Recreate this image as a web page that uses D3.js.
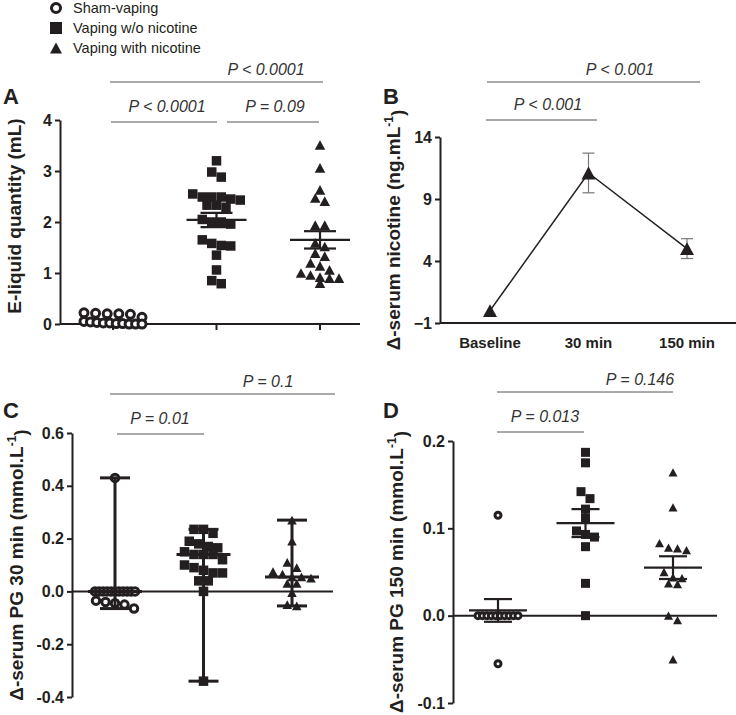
<!DOCTYPE html>
<html><head><meta charset="utf-8">
<script src="https://cdn.jsdelivr.net/npm/d3@7"></script>
<style>body{margin:0;background:#fff} svg{display:block}</style>
</head><body><svg id="c" width="736" height="715"></svg>
<script>
// ---------- DATA ----------
const groups = ["sham", "noNic", "nic"];
const legendLabels = ["Sham-vaping", "Vaping w/o nicotine", "Vaping with nicotine"];
const groupSymbols = ["circle", "square", "triangle"];

// Panel A: E-liquid quantity (mL)
const aSham = [0.22, 0.21, 0.2, 0.2, 0.19, 0.13, 0.05, 0.04, 0.03, 0.02, 0.02, 0.01, 0.01, 0.0, 0.0, 0.0];
const aNoNic = [3.2, 2.98, 2.88, 2.55, 2.49, 2.49, 2.49, 2.45, 2.43, 2.33, 2.33, 2.29, 2.05, 2.0, 2.0, 1.96, 1.65, 1.58, 1.54, 1.53, 1.35, 1.06, 0.85, 0.79];
const aNic = [3.51, 3.06, 2.63, 2.47, 2.41, 1.94, 1.94, 1.59, 1.52, 1.39, 1.33, 1.20, 1.14, 1.06, 1.0, 0.96, 0.92, 0.90, 0.90, 0.80];
const aMean = [0.09, 2.04, 1.65];
const aSem = [0.02, 0.14, 0.17];
const aTicks = [0, 1, 2, 3, 4];

// Panel B: delta serum nicotine
const bTimes = ["Baseline", "30 min", "150 min"];
const bMean = [0, 11.1, 5.0];
const bSem = [0, 1.6, 0.8];
const bTicks = [-1, 4, 9, 14];

// Panel C: delta serum PG 30 min (median with range)
const cSham = [0.43, 0, 0, 0, 0, 0, 0, 0, 0, 0, 0, 0, -0.035, -0.04, -0.045, -0.05, -0.065];
const cNoNic = [0.235, 0.235, 0.22, 0.19, 0.18, 0.17, 0.165, 0.15, 0.14, 0.14, 0.14, 0.12, 0.10, 0.09, 0.08, 0.07, 0.07, 0.04, 0.04, 0.0, -0.34];
const cNic = [0.27, 0.19, 0.11, 0.09, 0.075, 0.065, 0.055, 0.055, 0.05, 0.03, 0.03, -0.005, -0.05, -0.055];
const cTicks = [-0.4, -0.2, 0.0, 0.2, 0.4, 0.6];

// Panel D: delta serum PG 150 min (mean +/- SEM)
const dSham = [0.115, 0, 0, 0, 0, 0, 0, 0, 0, 0, 0, -0.055];
const dNoNic = [0.187, 0.175, 0.142, 0.134, 0.122, 0.112, 0.097, 0.093, 0.090, 0.079, 0.037, 0.0];
const dNic = [0.164, 0.124, 0.083, 0.078, 0.077, 0.075, 0.05, 0.044, 0.043, 0.037, 0.036, 0.0, -0.005, -0.05];
const dMean = [0.006, 0.106, 0.055];
const dSem = [0.013, 0.016, 0.013];
const dTicks = [-0.1, 0.0, 0.1, 0.2];

// P-value annotations: [fromGroup, toGroup, text, row]
const aP = [[0, 2, "P < 0.0001", 0], [0, 1, "P < 0.0001", 1], [1, 2, "P = 0.09", 1]];
const bP = [[0, 2, "P < 0.001", 0], [0, 1, "P < 0.001", 1]];
const cP = [[0, 2, "P = 0.1", 0], [0, 1, "P = 0.01", 1]];
const dP = [[0, 2, "P = 0.146", 0], [0, 1, "P = 0.013", 1]];

// ---------- DRAWING ----------
const FONT = "Arial, 'Liberation Sans', Helvetica, sans-serif";
const INK = "#231f20";
const svg = d3.select("#c");

function symbol(g, type, x, y, s, sw) {
  if (type === "circle") {
    g.append("circle").attr("cx", x).attr("cy", y).attr("r", s / 2 - sw / 2)
      .attr("fill", "#fff").attr("stroke", INK).attr("stroke-width", sw);
  } else if (type === "square") {
    g.append("rect").attr("x", x - s / 2).attr("y", y - s / 2).attr("width", s).attr("height", s).attr("fill", INK);
  } else {
    const h = s * 0.92;
    g.append("path").attr("d", `M${x},${y - h / 2}L${x + s / 2},${y + h / 2}L${x - s / 2},${y + h / 2}Z`).attr("fill", INK);
  }
}

function swarm(vals, y, cx, d, maxW, thr) {
  const pts = vals.map(v => ({ v, py: y(v) })).sort((a, b) => a.py - b.py);
  const rows = []; let cur = null;
  for (const p of pts) {
    if (!cur || p.py - cur[0].py > thr) { cur = [p]; rows.push(cur); } else cur.push(p);
  }
  rows.forEach(r => {
    const n = r.length; let sp = d;
    if (n > 1 && (n - 1) * sp > maxW) sp = maxW / (n - 1);
    r.forEach((p, k) => { p.px = cx + (k - (n - 1) / 2) * sp; });
  });
  return pts;
}

function yAxis(g, y, ticks, fmt, x) {
  const ax = d3.axisLeft(y).tickValues(ticks).tickFormat(fmt).tickSize(5).tickSizeOuter(0).tickPadding(3);
  const a = g.append("g").attr("transform", `translate(${x},0)`).call(ax);
  a.select(".domain").attr("stroke", INK).attr("stroke-width", 2);
  a.selectAll(".tick line").attr("stroke", INK).attr("stroke-width", 2);
  a.selectAll(".tick text").attr("fill", INK).style("font", `bold 16px ${FONT}`);
}

function yTitle(g, x, cy, main, sup) {
  const t = g.append("text").attr("transform", `translate(${x},${cy}) rotate(-90)`)
    .attr("text-anchor", "middle").attr("fill", INK).style("font", `bold 19px ${FONT}`);
  t.append("tspan").text(main);
  if (sup) {
    t.append("tspan").attr("dy", "-0.55em").style("font-size", "12px").text(sup);
    t.append("tspan").attr("dy", "0.55em").text(")");
  }
}

function panelLetter(x, y, s) {
  svg.append("text").attr("x", x).attr("y", y).attr("fill", INK).style("font", `bold 22px ${FONT}`).text(s);
}

function pAnnot(g, list, xs, rowY, textX) {
  list.forEach((p, i) => {
    const [a, b, txt, row] = p;
    const ly = rowY[row];
    g.append("line").attr("x1", xs[i][0]).attr("x2", xs[i][1]).attr("y1", ly).attr("y2", ly)
      .attr("stroke", "#555").attr("stroke-width", 1);
    g.append("text").attr("x", textX[i]).attr("y", ly - (row === 0 ? 7 : 10)).attr("text-anchor", "middle")
      .attr("fill", "#333").style("font", `italic 16px ${FONT}`).text(txt);
  });
}

// ---------- Legend ----------
legendLabels.forEach((lab, i) => {
  const ly = 8 + i * 20;
  symbol(svg, groupSymbols[i], 56, ly, 12, 3);
  svg.append("text").attr("x", 73).attr("y", ly + 5).attr("fill", INK).style("font", `14.5px ${FONT}`).text(lab);
});

// ---------- Panel A ----------
{
  const g = svg.append("g");
  const x = d3.scalePoint().domain(groups).range([113, 320]);
  const y = d3.scaleLinear().domain([0, 4]).range([324, 120]);
  panelLetter(3, 104, "A");
  g.append("line").attr("x1", 60).attr("x2", 360).attr("y1", y(0)).attr("y2", y(0)).attr("stroke", INK).attr("stroke-width", 2);
  groups.forEach(k => g.append("line").attr("x1", x(k)).attr("x2", x(k)).attr("y1", y(0)).attr("y2", y(0) + 6).attr("stroke", INK).attr("stroke-width", 2));
  yAxis(g, y, aTicks, d3.format("d"), 60);
  yTitle(g, 21, (y(0) + y(4)) / 2 - 6, "E-liquid quantity (mL)");
  [aSham, aNoNic, aNic].forEach((vals, i) => {
    const pts = swarm(vals, y, x(groups[i]), i === 0 ? 13 : 9.5, i === 0 ? 58 : 70, 8);
    pts.forEach(p => symbol(g, groupSymbols[i], p.px, p.py, i === 2 ? 10.5 : (i === 0 ? 11 : 9.5), 3));
    if (i > 0) {
      const cx = x(groups[i]);
      const m = y(aMean[i]), hi = y(aMean[i] + aSem[i]), lo = y(aMean[i] - aSem[i]);
      g.append("line").attr("x1", cx - 30).attr("x2", cx + 30).attr("y1", m).attr("y2", m).attr("stroke", INK).attr("stroke-width", 2.2);
      g.append("line").attr("x1", cx).attr("x2", cx).attr("y1", hi).attr("y2", lo).attr("stroke", INK).attr("stroke-width", 2.2);
      [hi, lo].forEach(v => g.append("line").attr("x1", cx - 16).attr("x2", cx + 16).attr("y1", v).attr("y2", v).attr("stroke", INK).attr("stroke-width", 2.2));
    }
  });
  pAnnot(g, aP, [[110, 323], [111, 217], [227, 319]], [82, 122], [266, 167, 275]);
}

// ---------- Panel B ----------
{
  const g = svg.append("g");
  const x = d3.scalePoint().domain(bTimes).range([490, 687]);
  const y = d3.scaleLinear().domain([-1, 14]).range([323, 137]);
  panelLetter(383, 104, "B");
  g.append("line").attr("x1", 440).attr("x2", 736).attr("y1", y(-1)).attr("y2", y(-1)).attr("stroke", INK).attr("stroke-width", 2);
  yAxis(g, y, bTicks, d3.format("d"), 440);
  yTitle(g, 400, (y(-1) + y(14)) / 2, "\u0394-serum nicotine (ng.mL", "-1");
  bTimes.forEach(t => g.append("text").attr("x", x(t)).attr("y", 348).attr("text-anchor", "middle")
    .attr("fill", INK).style("font", `bold 15px ${FONT}`).text(t));
  const line = d3.line().x((d, i) => x(bTimes[i])).y(d => y(d));
  g.append("path").attr("d", line(bMean)).attr("fill", "none").attr("stroke", INK).attr("stroke-width", 1.5);
  bMean.forEach((m, i) => {
    if (bSem[i] > 0) {
      const cx = x(bTimes[i]), hi = y(m + bSem[i]), lo = y(m - bSem[i]);
      g.append("line").attr("x1", cx).attr("x2", cx).attr("y1", hi).attr("y2", lo).attr("stroke", "#777").attr("stroke-width", 1.2);
      [hi, lo].forEach(v => g.append("line").attr("x1", cx - 6).attr("x2", cx + 6).attr("y1", v).attr("y2", v).attr("stroke", "#777").attr("stroke-width", 1.2));
    }
    symbol(g, "triangle", x(bTimes[i]), y(m), 14, 0);
  });
  pAnnot(g, bP, [[487, 700], [486, 597]], [82, 120], [620, 548]);
}

// ---------- Panel C ----------
{
  const g = svg.append("g");
  const x = d3.scalePoint().domain(groups).range([115, 292]);
  const y = d3.scaleLinear().domain([-0.4, 0.6]).range([697, 433]);
  panelLetter(3, 418, "C");
  yAxis(g, y, cTicks, v => v.toFixed(1), 72);
  g.append("line").attr("x1", 72).attr("x2", 333).attr("y1", y(0)).attr("y2", y(0)).attr("stroke", INK).attr("stroke-width", 2);
  yTitle(g, 23, (y(-0.4) + y(0.6)) / 2, "\u0394-serum PG 30 min (mmol.L", "-1");
  [cSham, cNoNic, cNic].forEach((vals, i) => {
    const pts = swarm(vals, y, x(groups[i]), 9.5, i === 0 ? 40 : 56, 8);
    pts.forEach(p => symbol(g, groupSymbols[i], p.px, p.py, i === 0 ? 10.5 : 9.5, 3));
    const cx = x(groups[i]);
    const med = y(d3.median(vals)), hi = y(d3.max(vals)), lo = y(d3.min(vals));
    g.append("line").attr("x1", cx).attr("x2", cx).attr("y1", hi).attr("y2", lo).attr("stroke", INK).attr("stroke-width", 3);
    [hi, lo].forEach(v => g.append("line").attr("x1", cx - 15).attr("x2", cx + 15).attr("y1", v).attr("y2", v).attr("stroke", INK).attr("stroke-width", 3));
    g.append("line").attr("x1", cx - 27).attr("x2", cx + 27).attr("y1", med).attr("y2", med).attr("stroke", INK).attr("stroke-width", 3);
  });
  pAnnot(g, cP, [[110, 335], [117, 204]], [394, 434], [268, 160]);
}

// ---------- Panel D ----------
{
  const g = svg.append("g");
  const x = d3.scalePoint().domain(groups).range([498, 673]);
  const y = d3.scaleLinear().domain([-0.1, 0.2]).range([703, 441]);
  panelLetter(383, 418, "D");
  yAxis(g, y, dTicks, v => v.toFixed(1), 453);
  g.append("line").attr("x1", 453).attr("x2", 717).attr("y1", y(0)).attr("y2", y(0)).attr("stroke", INK).attr("stroke-width", 2);
  yTitle(g, 403, (y(-0.1) + y(0.2)) / 2, "\u0394-serum PG 150 min (mmol.L", "-1");
  [dSham, dNoNic, dNic].forEach((vals, i) => {
    const pts = swarm(vals, y, x(groups[i]), 9, i === 0 ? 40 : 56, 7);
    pts.forEach(p => symbol(g, groupSymbols[i], p.px, p.py, 9, 3));
    const cx = x(groups[i]);
    const m = y(dMean[i]), hi = y(dMean[i] + dSem[i]), lo = y(dMean[i] - dSem[i]);
    g.append("line").attr("x1", cx - 29).attr("x2", cx + 29).attr("y1", m).attr("y2", m).attr("stroke", INK).attr("stroke-width", 2.2);
    g.append("line").attr("x1", cx).attr("x2", cx).attr("y1", hi).attr("y2", lo).attr("stroke", INK).attr("stroke-width", 2.2);
    [hi, lo].forEach(v => g.append("line").attr("x1", cx - 14).attr("x2", cx + 14).attr("y1", v).attr("y2", v).attr("stroke", INK).attr("stroke-width", 2.2));
  });
  pAnnot(g, dP, [[497, 673], [497, 584]], [392, 432], [640, 545]);
}
</script></body></html>
